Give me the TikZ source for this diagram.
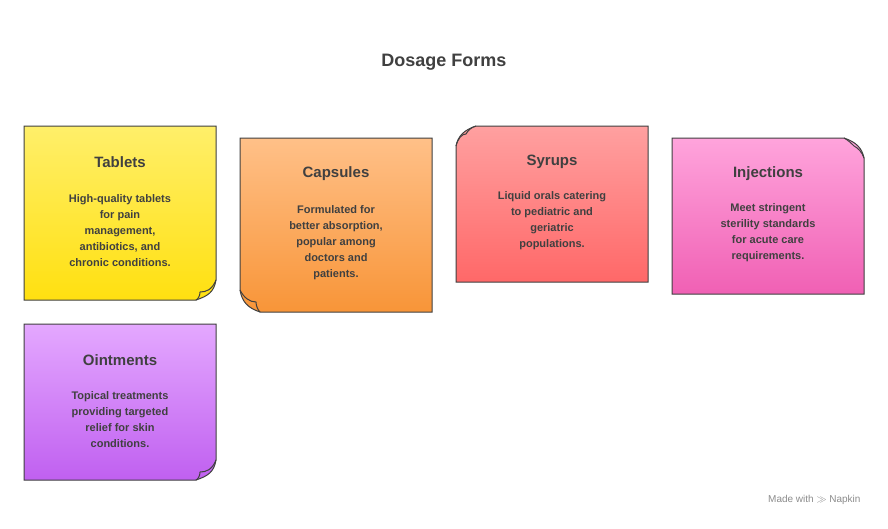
\documentclass[tikz,border=0pt]{standalone}
\usepackage{fontspec}
\setmainfont{Liberation Sans}
\begin{document}
\begin{tikzpicture}[x=1pt,y=-1pt,
  card/.style={draw=black!75,line width=1pt},
  head/.style={font=\fontsize{15}{18}\selectfont\bfseries,text=black!75},
  body/.style={font=\fontsize{11}{16}\selectfont\bfseries,text=black!75,align=center}]
\useasboundingbox[fill=white] (0,0) rectangle (888,528);
\definecolor{ya}{HTML}{FFEF6A}\definecolor{yb}{HTML}{FFE010}
\definecolor{oa}{HTML}{FFC088}\definecolor{ob}{HTML}{F89538}
\definecolor{ra}{HTML}{FFA0A0}\definecolor{rb}{HTML}{FF6868}
\definecolor{pa}{HTML}{FFA4DC}\definecolor{pb}{HTML}{F060B4}
\definecolor{va}{HTML}{E4A8FF}\definecolor{vb}{HTML}{C060F0}
\node[font=\fontsize{18}{22}\selectfont\bfseries,text=black!75] (title) at (444,62) {Dosage Forms};
% Tablets: bottom-right curl
\shade[top color=ya,bottom color=yb] (24,126) -- (216,126) -- (216,280) .. controls (214,292) and (208,296) .. (196,300) -- (24,300) -- cycle;
\draw[card] (24,126) -- (216,126) -- (216,280) .. controls (214,292) and (208,296) .. (196,300) -- (24,300) -- cycle;
\draw[card] (216,280) .. controls (212,290) and (206,292) .. (200,292) .. controls (200,296) and (198,299) .. (196,300);
\node[head] (t1) at (120,162) {Tablets};
\node[body] (t2) at (120,231) {High-quality tablets\\for pain\\management,\\antibiotics, and\\chronic conditions.};
% Capsules: bottom-left curl
\shade[top color=oa,bottom color=ob] (240,138) -- (432,138) -- (432,312) -- (260,312) .. controls (248,308) and (242,302) .. (240,290) -- cycle;
\draw[card] (240,138) -- (432,138) -- (432,312) -- (260,312) .. controls (248,308) and (242,302) .. (240,290) -- cycle;
\draw[card] (240,290) .. controls (244,298) and (250,302) .. (256,302) .. controls (256,306) and (258,310) .. (260,312);
\node[head] (c1) at (336,174) {Capsules};
\node[body] (c2) at (336,243) {Formulated for\\better absorption,\\popular among\\doctors and\\patients.};
% Syrups: top-left curl
\shade[top color=ra,bottom color=rb] (476,126) -- (648,126) -- (648,282) -- (456,282) -- (456,146) .. controls (458,136) and (464,130) .. (476,126) -- cycle;
\draw[card] (476,126) -- (648,126) -- (648,282) -- (456,282) -- (456,146) .. controls (458,136) and (464,130) .. (476,126) -- cycle;
\draw[card] (456,146) .. controls (458,138) and (462,134) .. (466,134) .. controls (468,130) and (472,127) .. (476,126);
\node[head] (s1) at (552,162) {Syrups};
\node[body] (s2) at (552,221) {Liquid orals catering\\to pediatric and\\geriatric\\populations.};
% Injections: top-right curl
\shade[top color=pa,bottom color=pb] (672,138) -- (844,138) .. controls (856,142) and (862,148) .. (864,158) -- (864,294) -- (672,294) -- cycle;
\draw[card] (672,138) -- (844,138) .. controls (856,142) and (862,148) .. (864,158) -- (864,294) -- (672,294) -- cycle;
\draw[card] (844,138) .. controls (848,140) and (852,144) .. (854,146) .. controls (858,148) and (862,152) .. (864,158);
\node[head] (i1) at (768,174) {Injections};
\node[body] (i2) at (768,233) {Meet stringent\\sterility standards\\for acute care\\requirements.};
% Ointments: bottom-right curl
\shade[top color=va,bottom color=vb] (24,324) -- (216,324) -- (216,460) .. controls (214,472) and (208,476) .. (196,480) -- (24,480) -- cycle;
\draw[card] (24,324) -- (216,324) -- (216,460) .. controls (214,472) and (208,476) .. (196,480) -- (24,480) -- cycle;
\draw[card] (216,460) .. controls (212,470) and (206,472) .. (200,472) .. controls (200,476) and (198,479) .. (196,480);
\node[head] (o1) at (120,360) {Ointments};
\node[body] (o2) at (120,420) {Topical treatments\\providing targeted\\relief for skin\\conditions.};
\node[font=\fontsize{10}{12}\selectfont,text=black!45,anchor=east] (mw) at (864,500) {Made with \textbf{$\gg$} Napkin};
\end{tikzpicture}
\end{document}
